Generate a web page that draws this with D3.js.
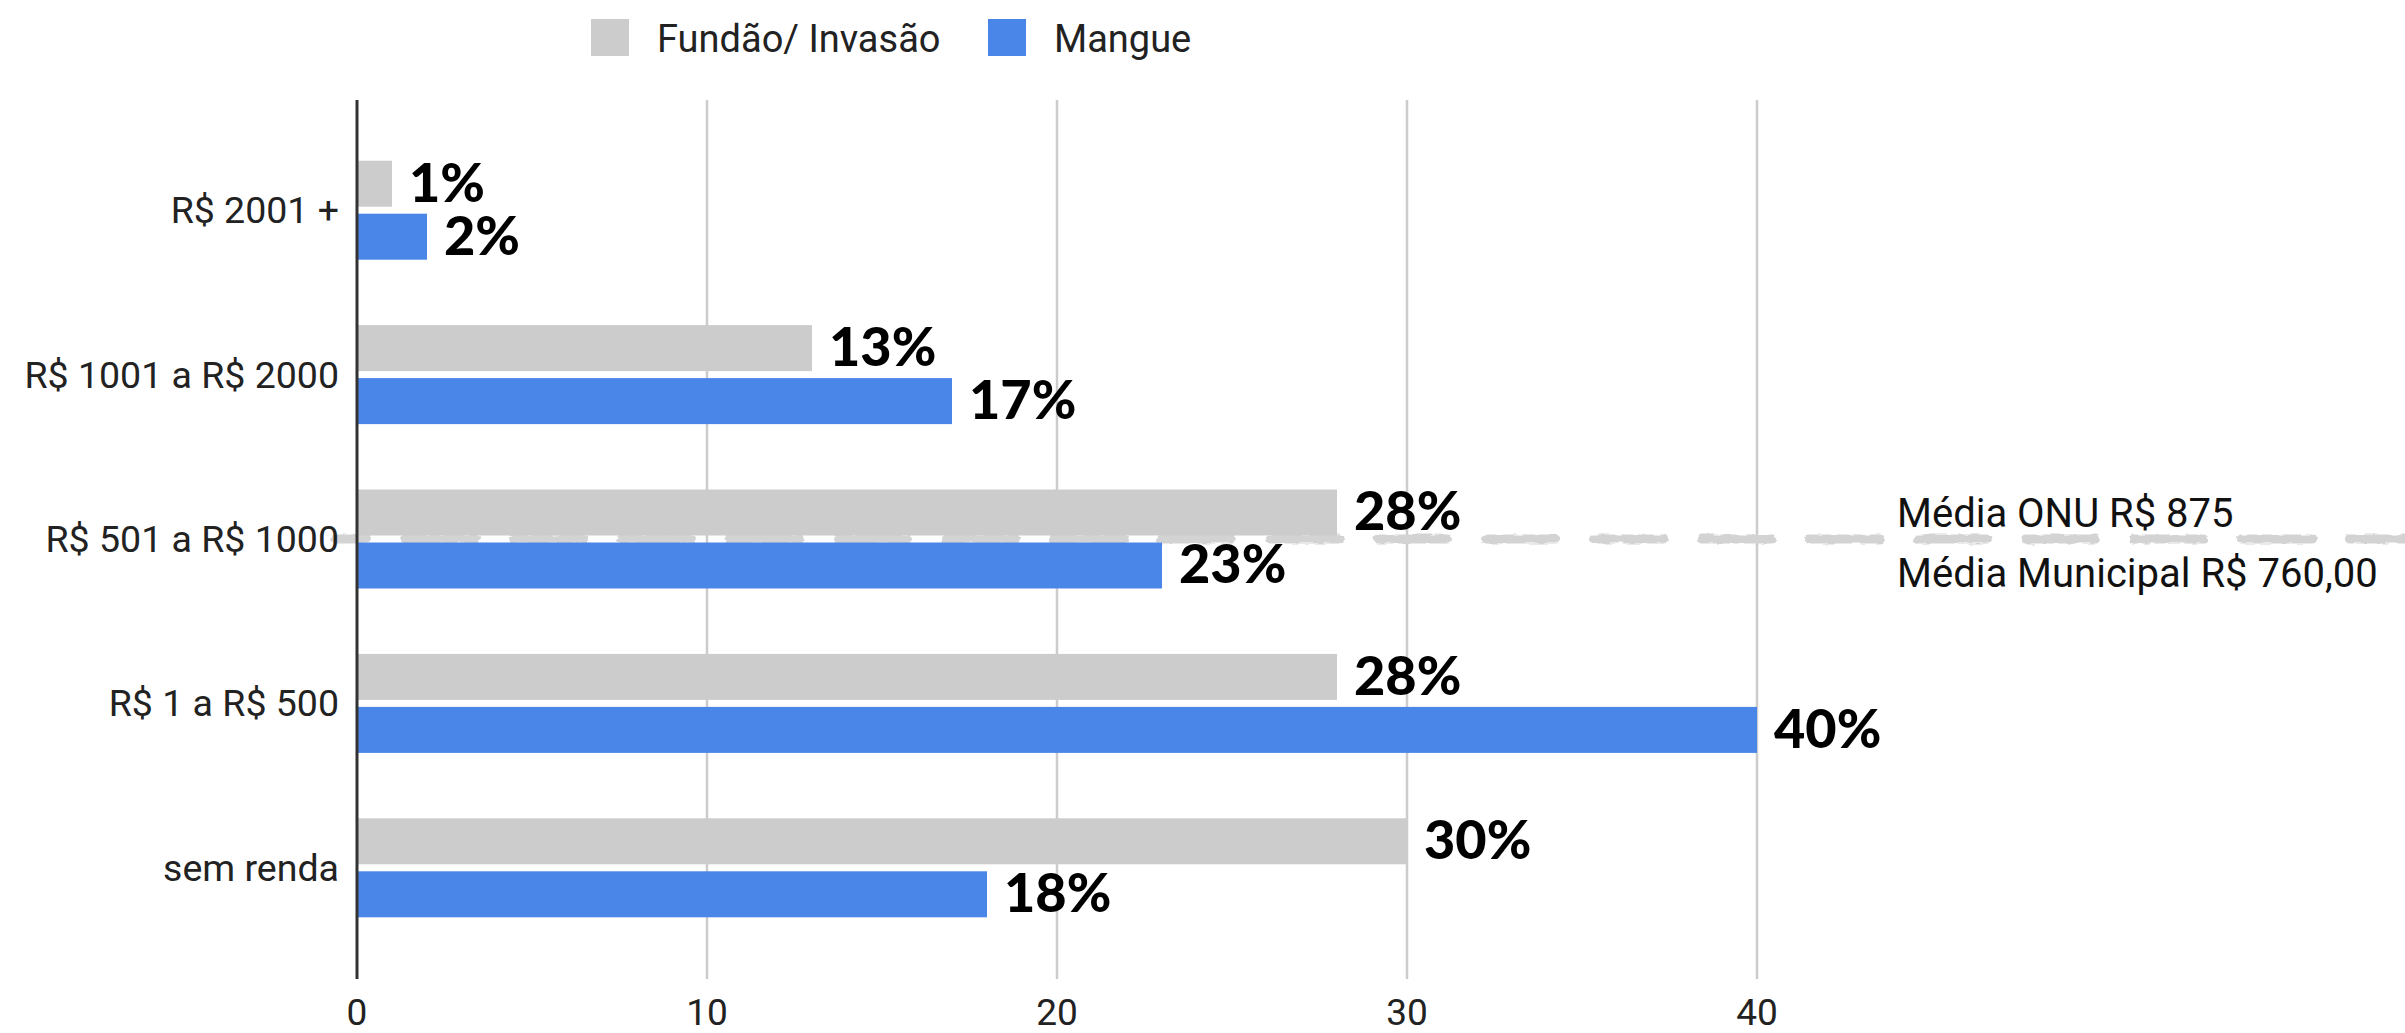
<!DOCTYPE html>
<html>
<head>
<meta charset="utf-8">
<script src="https://cdn.jsdelivr.net/npm/d3@7"></script>
<style>
  html, body { margin: 0; padding: 0; background: #ffffff; }
  svg { display: block; }
</style>
</head>
<body>
<svg id="chart" width="2405" height="1033"></svg>
<script>
// Renda familiar por faixa, comparando as duas áreas pesquisadas (%)
const categories = ["R$ 2001 +", "R$ 1001 a R$ 2000", "R$ 501 a R$ 1000", "R$ 1 a R$ 500", "sem renda"];
const seriesNames = ["Fundão/ Invasão", "Mangue"];
const fundaoValues = [1, 13, 28, 28, 30];
const mangueValues = [2, 17, 23, 40, 18];
const xTicks = [0, 10, 20, 30, 40];
const referenceNotes = ["Média ONU R$ 875", "Média Municipal R$ 760,00"];
const referenceCategory = "R$ 501 a R$ 1000";

const colors = { "Fundão/ Invasão": "#cccccc", "Mangue": "#4a86e8" };
const valuesBySeries = { "Fundão/ Invasão": fundaoValues, "Mangue": mangueValues };

const svg = d3.select("#chart");
const W = 2405, H = 1033;
const plot = { left: 357, right: 1757, top: 100, bottom: 979 };

const x = d3.scaleLinear().domain([0, 40]).range([plot.left, plot.right]);
const y = d3.scaleBand().domain(categories).range([128, 950]);
const step = y.step();
const inner = d3.scaleBand().domain(seriesNames)
  .range([step / 2 - 49.5, step / 2 + 49.5])
  .paddingInner(0.132);

const labelFont = "Roboto, 'Noto Sans', sans-serif";
const valueFont = "Lato, Inter, 'Noto Sans', sans-serif";

// rough brush-like edge for the reference line
const refY = y(referenceCategory) + step / 2;
const defs = svg.append("defs");
const rough = defs.append("filter").attr("id", "rough")
  .attr("filterUnits", "userSpaceOnUse")
  .attr("x", 0).attr("y", refY - 30).attr("width", W).attr("height", 60);
rough.append("feTurbulence").attr("type", "fractalNoise")
  .attr("baseFrequency", "0.08 0.25").attr("numOctaves", 2).attr("seed", 4).attr("result", "noise");
rough.append("feDisplacementMap").attr("in", "SourceGraphic").attr("in2", "noise")
  .attr("scale", 5).attr("xChannelSelector", "R").attr("yChannelSelector", "G");

// vertical gridlines
svg.append("g").selectAll("line")
  .data(xTicks.filter(d => d !== 0))
  .join("line")
  .attr("x1", d => x(d)).attr("x2", d => x(d))
  .attr("y1", plot.top).attr("y2", plot.bottom)
  .attr("stroke", "#cccccc").attr("stroke-width", 2.5);

// dashed reference line (average income marks)
const refStart = 335;
svg.append("line")
  .attr("x1", refStart).attr("x2", W + 20)
  .attr("y1", refY).attr("y2", refY)
  .attr("stroke", "#d3d3d3")
  .attr("stroke-width", 9)
  .attr("stroke-linecap", "round")
  .attr("stroke-dasharray", "70 38")
  .attr("stroke-dashoffset", -70.5)
  .attr("filter", "url(#rough)");

// bars
const groups = svg.append("g").selectAll("g")
  .data(categories)
  .join("g")
  .attr("transform", d => `translate(0,${y(d)})`);

groups.selectAll("rect")
  .data((c, i) => seriesNames.map(s => ({ series: s, value: valuesBySeries[s][i] })))
  .join("rect")
  .attr("x", x(0))
  .attr("y", d => inner(d.series))
  .attr("width", d => x(d.value) - x(0))
  .attr("height", inner.bandwidth())
  .attr("fill", d => colors[d.series]);

// value labels
groups.selectAll("text.value")
  .data((c, i) => seriesNames.map(s => ({ series: s, value: valuesBySeries[s][i] })))
  .join("text")
  .attr("class", "value")
  .attr("x", d => x(d.value) + 17)
  .attr("y", d => inner(d.series) + inner.bandwidth() / 2 + 18)
  .attr("font-family", valueFont)
  .attr("font-weight", 900)
  .attr("font-size", 54)
  .attr("fill", "#000000")
  .text(d => d.value + "%");

// baseline axis
svg.append("line")
  .attr("x1", x(0)).attr("x2", x(0))
  .attr("y1", plot.top).attr("y2", plot.bottom)
  .attr("stroke", "#333333").attr("stroke-width", 3);

// category labels
svg.append("g").selectAll("text")
  .data(categories)
  .join("text")
  .attr("x", 339)
  .attr("y", d => y(d) + step / 2 + 13)
  .attr("text-anchor", "end")
  .attr("font-family", labelFont)
  .attr("font-size", 37.5)
  .attr("fill", "#222222")
  .text(d => d);

// x tick labels
svg.append("g").selectAll("text")
  .data(xTicks)
  .join("text")
  .attr("x", d => x(d))
  .attr("y", 1025)
  .attr("text-anchor", "middle")
  .attr("font-family", labelFont)
  .attr("font-size", 37)
  .attr("fill", "#222222")
  .text(d => d);

// legend
const legendPos = [591, 988];
const legend = svg.append("g").selectAll("g")
  .data(seriesNames)
  .join("g")
  .attr("transform", (d, i) => `translate(${legendPos[i]},19)`);
legend.append("rect")
  .attr("width", 38).attr("height", 37)
  .attr("fill", d => colors[d]);
legend.append("text")
  .attr("x", 66).attr("y", 33)
  .attr("font-family", labelFont)
  .attr("font-size", 38)
  .attr("fill", "#222222")
  .text(d => d);

// reference notes
svg.append("g").selectAll("text")
  .data(referenceNotes)
  .join("text")
  .attr("x", 1897)
  .attr("y", (d, i) => 527 + i * 60)
  .attr("font-family", labelFont)
  .attr("font-size", 40)
  .attr("fill", "#111111")
  .text(d => d);
</script>
</body>
</html>
